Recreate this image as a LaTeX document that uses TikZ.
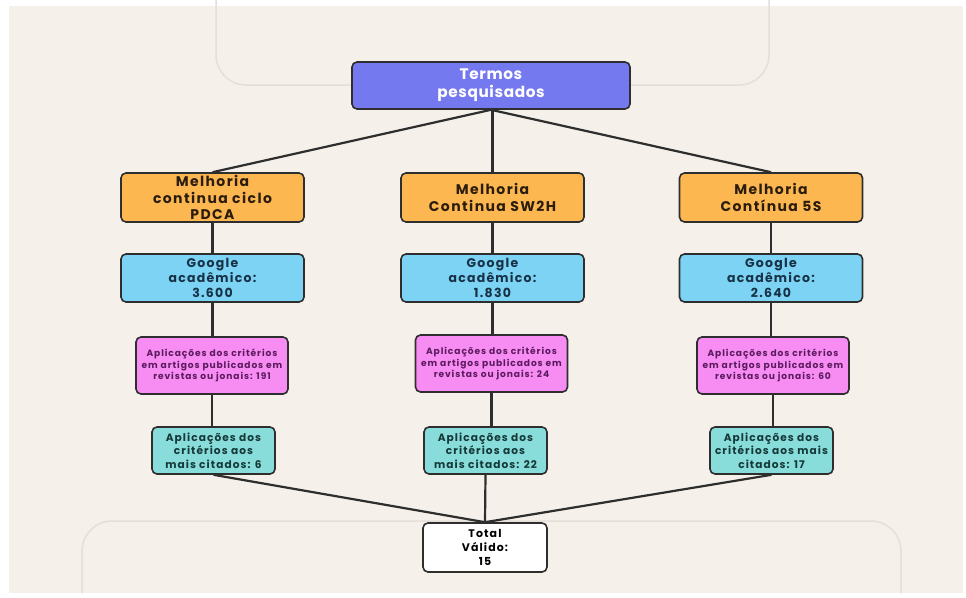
\documentclass[tikz,border=0pt]{standalone}
\usepackage{fontspec}
\setmainfont{Poppins}[LetterSpace=10]
\usetikzlibrary{positioning}
\definecolor{cream}{HTML}{F5F1EA}
\definecolor{faint}{HTML}{E4DFD8}
\definecolor{lineclr}{HTML}{2E2E2E}
\definecolor{termfill}{HTML}{7579F0}
\definecolor{orangefill}{HTML}{FDB750}
\definecolor{bluefill}{HTML}{7DD3F4}
\definecolor{pinkfill}{HTML}{F78CF3}
\definecolor{tealfill}{HTML}{88DCDA}
\definecolor{orangetext}{HTML}{2B1D0E}
\definecolor{bluetext}{HTML}{173246}
\definecolor{pinktext}{HTML}{5B1A5E}
\definecolor{tealtext}{HTML}{153838}
\tikzset{
  box/.style={draw=lineclr, line width=1.6pt, rounded corners=5pt, align=center,
    inner sep=0pt, font=\bfseries},
  termbox/.style={box, fill=termfill, text=white, minimum width=278, minimum height=47,
    font=\bfseries\fontsize{15.3}{17.7}\selectfont\addfontfeature{LetterSpace=4}},
  melhbox/.style={box, fill=orangefill, text=orangetext, minimum width=183, minimum height=49,
    font=\bfseries\fontsize{14}{16.7}\selectfont},
  googbox/.style={box, fill=bluefill, text=bluetext, minimum width=183, minimum height=48,
    font=\bfseries\fontsize{12.5}{15}\selectfont},
  critbox/.style={box, fill=pinkfill, text=pinktext, minimum width=152, minimum height=57,
    font=\bfseries\fontsize{9.1}{11.7}\selectfont},
  citbox/.style={box, fill=tealfill, text=tealtext, minimum width=123, minimum height=47,
    font=\bfseries\fontsize{10.6}{13.3}\selectfont},
  totbox/.style={box, fill=white, text=black, minimum width=124, minimum height=49,
    font=\bfseries\fontsize{11}{14}\selectfont},
  link/.style={draw=lineclr, line width=2.2pt}
}
\begin{document}
\begin{tikzpicture}[x=1pt, y=-1pt]
\useasboundingbox (0,0) rectangle (966,597);
\fill[cream] (9,6) rectangle (963,593);
% faint frames behind the chart
\draw[faint, line width=1.5pt, rounded corners=30pt] (216,0) -- (216,85) -- (769,85) -- (769,0);
\draw[faint, line width=1.5pt, rounded corners=30pt] (82,593) -- (82,521) -- (901,521) -- (901,593);

\node[termbox] (termos) at (491,85.5) {Termos\\pesquisados};

\node[melhbox] (melhA) at (212.5,197.5) {Melhoria\\continua ciclo\\PDCA};
\node[melhbox] (melhB) at (492.5,197.5) {Melhoria\\Continua SW2H};
\node[melhbox] (melhC) at (771,197.5) {Melhoria\\Contínua 5S};

\node[googbox] (googA) at (212.5,278) {Google\\acadêmico:\\3.600};
\node[googbox] (googB) at (492.5,278) {Google\\acadêmico:\\1.830};
\node[googbox] (googC) at (771,278) {Google\\acadêmico:\\2.640};

\node[critbox] (critA) at (212,365.5) {Aplicações dos critérios\\em artigos publicados em\\revistas ou jonais: 191};
\node[critbox] (critB) at (491.5,363.5) {Aplicações dos critérios\\em artigos publicados em\\revistas ou jonais: 24};
\node[critbox] (critC) at (773,365.5) {Aplicações dos critérios\\em artigos publicados em\\revistas ou jonais: 60};

\node[citbox] (citA) at (213.5,450.5) {Aplicações dos\\critérios aos\\mais citados: 6};
\node[citbox] (citB) at (485.5,450.5) {Aplicações dos\\critérios aos\\mais citados: 22};
\node[citbox] (citC) at (771.5,450.5) {Aplicações dos\\critérios aos mais\\citados: 17};

\node[totbox] (total) at (485,547.5) {Total\\Válido:\\15};

% connectors
\draw[link] (termos.south) -- (melhA.north);
\draw[link] (melhB.north |- termos.south) -- (melhB.north);
\draw[link] (termos.south) -- (melhC.north);
\foreach \c in {A,B,C}{
  \draw[link] (melh\c) -- (goog\c);
  \draw[link] (goog\c.south) -- (goog\c.south |- crit\c.north);
  \draw[link] (crit\c.south) -- (crit\c.south |- cit\c.north);
  \draw[link] (cit\c.south) -- (total.north);
}
\end{tikzpicture}
\end{document}
